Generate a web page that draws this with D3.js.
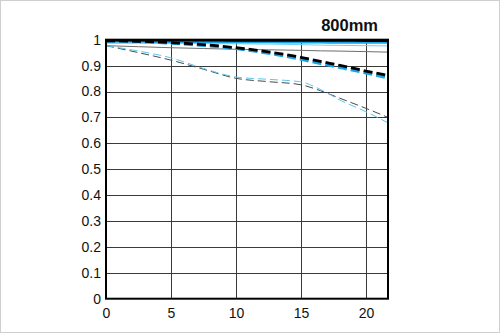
<!DOCTYPE html>
<html>
<head>
<meta charset="utf-8">
<script src="https://cdn.jsdelivr.net/npm/d3@7"></script>
<style>
  html, body { margin: 0; padding: 0; background: #fff; }
  svg { display: block; }
</style>
</head>
<body>
<script>
// MTF chart, 800mm: contrast vs. distance from image centre (mm)
const title = "800mm";
const xTicks = [0, 5, 10, 15, 20];
const yTicks = [0, 0.1, 0.2, 0.3, 0.4, 0.5, 0.6, 0.7, 0.8, 0.9, 1];
const yTickLabels = ["0", "0.1", "0.2", "0.3", "0.4", "0.5", "0.6", "0.7", "0.8", "0.9", "1"];

const positions = [0, 2.5, 5, 7.5, 10, 12.5, 15, 16.5, 18, 20, 21.7];

// thin = f/8, thick = wide open; black = 10 lp/mm, blue = 30 lp/mm
const s10Open  = [0.998, 0.998, 0.998, 0.998, 0.997, 0.997, 0.997, 0.997, 0.997, 0.996, 0.996];
const s30Open  = [0.994, 0.994, 0.993, 0.993, 0.992, 0.992, 0.991, 0.991, 0.990, 0.990, 0.990];
const m10Open  = [0.996, 0.994, 0.989, 0.981, 0.969, 0.953, 0.932, 0.916, 0.901, 0.879, 0.862];
const m30Open  = [0.996, 0.993, 0.987, 0.978, 0.966, 0.948, 0.925, 0.908, 0.893, 0.872, 0.852];
const s10Stop  = [0.977, 0.973, 0.969, 0.966, 0.963, 0.961, 0.959, 0.957, 0.956, 0.954, 0.952];
const s30Stop  = [0.986, 0.986, 0.985, 0.985, 0.984, 0.983, 0.981, 0.979, 0.978, 0.977, 0.976];
const m10Stop  = [0.977, 0.950, 0.921, 0.886, 0.851, 0.838, 0.826, 0.803, 0.774, 0.735, 0.700];
const m30Stop  = [0.977, 0.956, 0.930, 0.889, 0.856, 0.847, 0.837, 0.808, 0.767, 0.722, 0.679];

const series = [
  { values: s10Stop, color: "#6e6e6e", width: 1,   dash: null },
  { values: s30Stop, color: "#6fcff5", width: 1,   dash: null },
  { values: m10Stop, color: "#4a4a4a", width: 1,   dash: "8,4" },
  { values: m30Stop, color: "#5cc6f2", width: 1,   dash: "8,4" },
  { values: s30Open, color: "#1aa3e8", width: 3,   dash: null },
  { values: m30Open, color: "#1aa3e8", width: 3.2, dash: "9,4" },
  { values: m10Open, color: "#000000", width: 2.8, dash: "9,4" },
  { values: s10Open, color: "#000000", width: 2.5, dash: null }
];

const W = 500, H = 333;
const margin = { left: 106, right: 112, top: 39.7, bottom: 34.3 };

const svg = d3.select("body").append("svg")
  .attr("width", W).attr("height", H)
  .style("font-family", "'Liberation Sans', Arial, sans-serif");

svg.append("rect")
  .attr("x", 0.5).attr("y", 0.5).attr("width", W - 1).attr("height", H - 1)
  .attr("fill", "#fff").attr("stroke", "#cfcfcf");

const x = d3.scaleLinear().domain([0, 21.7]).range([margin.left, W - margin.right]);
const y = d3.scaleLinear().domain([0, 1]).range([H - margin.bottom, margin.top]);

// grid
const grid = svg.append("g");
grid.selectAll("line.h").data(yTicks.slice(1, -1)).join("line")
  .attr("x1", x(0)).attr("x2", x(21.7))
  .attr("y1", d => Math.round(y(d)) + 0.5).attr("y2", d => Math.round(y(d)) + 0.5)
  .attr("stroke", "#3a3a3a").attr("stroke-width", 1);
grid.selectAll("line.v").data(xTicks.slice(1)).join("line")
  .attr("y1", y(0)).attr("y2", y(1))
  .attr("x1", d => Math.round(x(d)) + 0.5).attr("x2", d => Math.round(x(d)) + 0.5)
  .attr("stroke", "#3a3a3a").attr("stroke-width", 1);

// curves
const line = d3.line()
  .x((d, i) => x(positions[i]))
  .y(d => y(d))
  .curve(d3.curveMonotoneX);

svg.append("g").selectAll("path").data(series).join("path")
  .attr("d", d => line(d.values))
  .attr("fill", "none")
  .attr("stroke", d => d.color)
  .attr("stroke-width", d => d.width)
  .attr("stroke-dasharray", d => d.dash);

// frame
svg.append("rect")
  .attr("x", x(0)).attr("y", y(1))
  .attr("width", x(21.7) - x(0)).attr("height", y(0) - y(1))
  .attr("fill", "none").attr("stroke", "#000").attr("stroke-width", 2);

// axes
const yAxis = d3.axisLeft(y).tickValues(yTicks)
  .tickFormat((d, i) => yTickLabels[i]).tickSize(0).tickPadding(5);
svg.append("g").attr("transform", `translate(${x(0)},0)`).call(yAxis)
  .call(g => g.select(".domain").remove())
  .selectAll("text").attr("font-size", 14).attr("fill", "#111")
  .attr("font-family", "'Liberation Sans', Arial, sans-serif");

const xAxis = d3.axisBottom(x).tickValues(xTicks).tickSize(0).tickPadding(9);
svg.append("g").attr("transform", `translate(0,${y(0)})`).call(xAxis)
  .call(g => g.select(".domain").remove())
  .selectAll("text").attr("font-size", 14).attr("fill", "#111")
  .attr("font-family", "'Liberation Sans', Arial, sans-serif");

svg.append("text")
  .attr("x", 378).attr("y", 30.5)
  .attr("text-anchor", "end")
  .attr("font-size", 16.5).attr("font-weight", "bold").attr("fill", "#111")
  .text(title);
</script>
</body>
</html>
